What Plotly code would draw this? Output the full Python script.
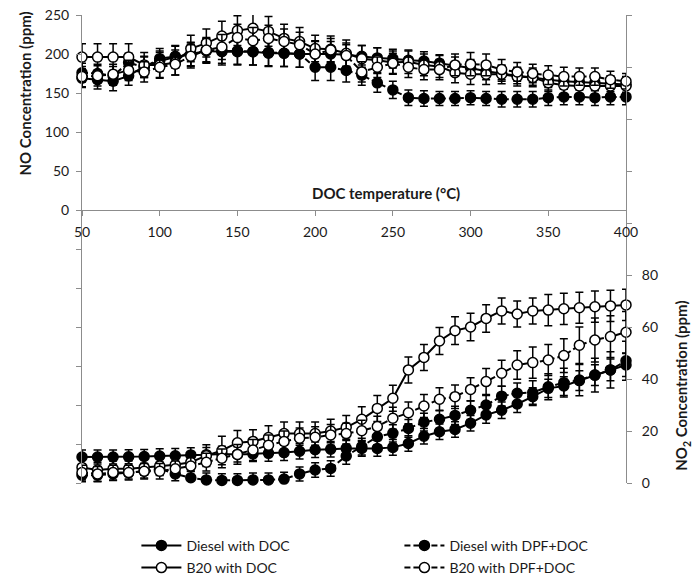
import plotly.graph_objects as go

# DOC inlet temperature (°C)
temperature = [50, 60, 70, 80, 90, 100, 110, 120, 130, 140, 150, 160, 170, 180,
               190, 200, 210, 220, 230, 240, 250, 260, 270, 280, 290, 300, 310,
               320, 330, 340, 350, 360, 370, 380, 390, 400]

# NO concentration (ppm), left axis
no_diesel_doc = [169, 167, 165, 172, 184, 191, 196, 200, 204, 203, 203, 203, 201, 201,
                 200, 200, 200, 199, 197, 195, 194, 192, 191, 188, 185, 182, 178,
                 175, 172, 170, 167, 165, 164, 163, 162, 161]
no_diesel_dpf = [176, 175, 172, 189, 183, 194, 197, 199, 205, 204, 204, 203, 202, 201,
                 200, 183, 183, 179, 173, 163, 154, 144, 143, 143, 143, 144, 143,
                 142, 142, 142, 144, 145, 145, 144, 145, 145]
no_b20_doc = [196, 196, 196, 196, 186, 186, 189, 207, 214, 223, 230, 233, 229, 220,
              216, 207, 206, 201, 194, 192, 189, 190, 186, 184, 176, 174, 174,
              174, 171, 170, 163, 160, 159, 159, 159, 159]
no_b20_dpf = [171, 172, 174, 179, 177, 183, 187, 197, 205, 209, 221, 217, 220, 216,
              212, 200, 205, 198, 177, 183, 188, 183, 180, 180, 186, 187, 186,
              180, 177, 175, 173, 171, 171, 171, 167, 165]

no_err_diesel_doc = [12, 12, 12, 12, 13, 13, 14, 15, 16, 17, 17, 17, 17, 17,
                     17, 17, 16, 15, 14, 13, 12, 12, 12, 11, 11, 11, 11,
                     10, 10, 10, 10, 10, 10, 10, 10, 10]
no_err_diesel_dpf = [12, 12, 12, 12, 13, 13, 14, 15, 16, 16, 17, 17, 17, 17,
                     17, 17, 17, 15, 13, 12, 11, 10, 10, 9, 9, 9, 9,
                     10, 10, 10, 10, 10, 10, 10, 10, 10]
no_err_b20_doc = [17, 17, 17, 17, 16, 16, 16, 17, 18, 19, 19, 19, 19, 18,
                  18, 17, 17, 17, 17, 16, 15, 15, 14, 14, 13, 13, 13,
                  12, 12, 12, 11, 11, 11, 11, 11, 11]
no_err_b20_dpf = [13, 13, 13, 13, 13, 14, 14, 15, 15, 16, 17, 17, 17, 16,
                  16, 16, 15, 14, 13, 13, 13, 13, 13, 13, 14, 15, 14,
                  13, 12, 12, 12, 12, 11, 11, 11, 10]

# NO2 concentration (ppm), right axis
no2_diesel_doc = [10.0, 10.0, 10.0, 10.1, 10.2, 10.4, 10.5, 10.8, 10.9, 11.2, 11.0, 11.2,
                  11.4, 11.7, 12.2, 12.8, 13.0, 13.3, 13.3, 13.3, 13.7, 15.2, 18.0, 19.7,
                  20.6, 23.0, 26.2, 28.0, 30.4, 33.2, 36.4, 37.3, 39.4, 41.5, 43.5, 45.4]
no2_diesel_dpf = [3.0, 3.0, 3.5, 4.0, 4.5, 5.5, 3.5, 2.0, 1.2, 1.0, 1.0, 1.2,
                  1.2, 1.5, 3.5, 5.0, 5.6, 10.4, 14.0, 17.8, 19.1, 21.0, 23.4, 24.5,
                  26.0, 28.0, 30.0, 33.4, 34.5, 34.8, 37.0, 38.6, 39.6, 41.5, 43.5, 47.0]
no2_b20_doc = [6.0, 5.0, 5.5, 5.5, 6.0, 6.5, 7.0, 8.0, 10.5, 12.5, 15.5, 16.0,
               17.5, 19.0, 19.0, 19.0, 20.0, 21.4, 24.5, 28.7, 32.6, 43.5, 48.3, 54.6,
               58.6, 60.0, 63.3, 66.2, 65.0, 66.2, 66.5, 67.0, 67.4, 67.8, 68.1, 68.5]
no2_b20_dpf = [4.0, 3.5, 4.0, 4.0, 4.5, 4.5, 5.5, 6.5, 8.0, 9.5, 11.0, 12.7,
               14.5, 16.0, 17.2, 17.6, 18.5, 19.0, 20.1, 21.7, 24.9, 27.0, 29.6, 32.2,
               33.2, 36.0, 39.0, 42.2, 45.4, 46.3, 47.3, 49.0, 53.0, 55.0, 56.3, 58.0]

no2_err_diesel_doc = [2.7, 2.7, 2.7, 2.7, 2.7, 2.8, 2.8, 2.8, 2.8, 2.9, 2.9, 2.9,
                      3.0, 3.0, 3.0, 3.0, 3.0, 3.0, 3.0, 3.0, 3.0, 3.0, 3.0, 3.0,
                      3.0, 3.0, 3.2, 3.2, 3.3, 3.4, 3.5, 3.6, 3.8, 4.0, 4.2, 4.4]
no2_err_diesel_dpf = [2.5, 2.5, 2.5, 2.5, 2.6, 2.6, 2.6, 2.6, 2.6, 2.6, 2.6, 2.6,
                      2.6, 2.6, 2.7, 2.8, 3.0, 3.2, 3.2, 3.2, 3.3, 3.4, 3.4, 3.5,
                      3.5, 3.6, 3.7, 3.8, 4.0, 4.5, 5.0, 5.5, 6.0, 6.5, 7.0, 7.5]
no2_err_b20_doc = [3.0, 3.0, 3.0, 3.0, 3.0, 3.2, 3.4, 3.6, 4.2, 5.5, 4.7, 4.5,
                   4.5, 4.5, 4.5, 4.5, 4.5, 4.6, 4.8, 5.0, 5.0, 5.0, 5.0, 5.2,
                   5.3, 5.3, 5.3, 5.0, 5.0, 5.0, 6.0, 6.0, 6.0, 6.0, 6.0, 6.0]
no2_err_b20_dpf = [2.8, 2.8, 2.8, 2.8, 3.0, 3.0, 3.0, 3.2, 3.4, 3.6, 3.8, 4.0,
                   4.0, 4.0, 4.0, 4.0, 4.0, 4.0, 4.0, 4.0, 4.2, 4.2, 4.4, 4.4,
                   4.5, 4.5, 5.0, 5.0, 5.5, 6.0, 6.0, 6.5, 7.0, 8.5, 8.0, 8.0]

series_names = ["Diesel with DOC", "Diesel with DPF+DOC", "B20 with DOC", "B20 with DPF+DOC"]

x_ticks = [50, 100, 150, 200, 250, 300, 350, 400]
no_ticks = [-350, -300, -250, -200, -150, -100, -50, 0, 50, 100, 150, 200, 250]
no_tick_text = ["", "", "", "", "", "", "", "0", "50", "100", "150", "200", "250"]
no2_ticks = [0, 20, 40, 60, 80, 100, 120, 140, 160, 180]
no2_tick_text = ["0", "20", "40", "60", "80", "", "", "", "", ""]

FONT = "Lato, 'Open Sans', sans-serif"
AXIS_GRAY = "#8c8c8c"
TEXT = "#1a1a1a"
DASH = "6px,3px"

# line style / marker fill per series, and which legend column it sits in
styles = [
    dict(dash="solid", fill="black", legend="legend"),
    dict(dash=DASH, fill="black", legend="legend2"),
    dict(dash="solid", fill="white", legend="legend"),
    dict(dash=DASH, fill="white", legend="legend2"),
]

no_values = [no_diesel_doc, no_diesel_dpf, no_b20_doc, no_b20_dpf]
no_errors = [no_err_diesel_doc, no_err_diesel_dpf, no_err_b20_doc, no_err_b20_dpf]
no2_values = [no2_diesel_doc, no2_diesel_dpf, no2_b20_doc, no2_b20_dpf]
no2_errors = [no2_err_diesel_doc, no2_err_diesel_dpf, no2_err_b20_doc, no2_err_b20_dpf]

fig = go.Figure()


def add_series(values, errors, name, style, axis, show_legend):
    fig.add_trace(go.Scatter(
        x=temperature, y=values, name=name, yaxis=axis,
        legendgroup=name, showlegend=show_legend, legend=style["legend"],
        mode="lines+markers",
        line=dict(color="black", width=2, dash=style["dash"]),
        marker=dict(symbol="circle", size=10, color=style["fill"],
                    line=dict(color="black", width=1.5)),
        error_y=dict(type="data", array=errors, visible=True,
                     color="black", thickness=1.5, width=4),
        cliponaxis=False,
    ))


for vals, errs, name, st in zip(no_values, no_errors, series_names, styles):
    add_series(vals, errs, name, st, "y", True)
for vals, errs, name, st in zip(no2_values, no2_errors, series_names, styles):
    add_series(vals, errs, name, st, "y2", False)

tick_font = dict(family=FONT, size=14, color=TEXT)
title_font = dict(family=FONT, size=15, color=TEXT)
legend_font = dict(family=FONT, size=14, color=TEXT)

legend_common = dict(
    orientation="v", xanchor="left", y=-0.1, yanchor="top",
    font=legend_font, itemwidth=40, bgcolor="rgba(0,0,0,0)",
    tracegroupgap=1,
)

fig.update_layout(
    width=692, height=577,
    margin=dict(l=82, r=66, t=15, b=94, autoexpand=False),
    paper_bgcolor="white", plot_bgcolor="white",
    font=dict(family=FONT, size=14, color=TEXT),
    xaxis=dict(
        range=[50, 400], tickvals=x_ticks, showgrid=False, zeroline=False,
        showline=True, linecolor=AXIS_GRAY, linewidth=1,
        ticks="outside", ticklen=5, tickcolor=AXIS_GRAY,
        anchor="free", position=350 / 600, tickfont=tick_font,
        ticklabelstandoff=4,
    ),
    yaxis=dict(
        range=[-350, 250], tickvals=no_ticks, ticktext=no_tick_text,
        showgrid=False, zeroline=False,
        showline=True, linecolor=AXIS_GRAY, linewidth=1,
        ticks="outside", ticklen=5, tickcolor=AXIS_GRAY, tickfont=tick_font,
        ticklabelstandoff=4,
    ),
    yaxis2=dict(
        range=[0, 180], tickvals=no2_ticks, ticktext=no2_tick_text,
        overlaying="y", side="right", showgrid=False, zeroline=False,
        showline=True, linecolor=AXIS_GRAY, linewidth=1,
        ticks="outside", ticklen=5, tickcolor=AXIS_GRAY, tickfont=tick_font,
        ticklabelstandoff=7,
    ),
    legend=dict(x=0.1, **legend_common),
    legend2=dict(x=0.5835, **legend_common),
    annotations=[
        dict(text="<b>NO Concentration (ppm)</b>", textangle=-90,
             xref="paper", yref="paper", x=-0.105, y=0.832,
             xanchor="center", yanchor="middle",
             showarrow=False, font=title_font),
        dict(text="<b>NO<sub>2</sub> Concentration (ppm)</b>", textangle=-90,
             xref="paper", yref="paper", x=1.104, y=0.207,
             xanchor="center", yanchor="middle",
             showarrow=False, font=title_font),
        dict(text="<b>DOC temperature (°C)</b>",
             xref="paper", yref="paper", x=0.558, y=0.62,
             xanchor="center", yanchor="middle",
             showarrow=False, font=title_font),
    ],
)

fig.write_html("out.html")
